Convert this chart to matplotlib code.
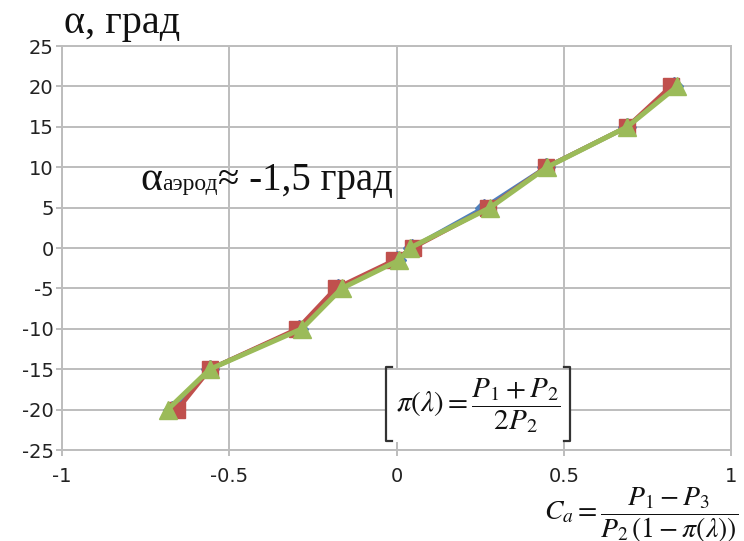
import matplotlib
matplotlib.use("Agg")
import matplotlib.pyplot as plt
from matplotlib.patches import Rectangle
from matplotlib.lines import Line2D

# Angle of attack, degrees
alpha = [-20, -15, -10, -5, -1.5, 0, 5, 10, 15, 20]
# Aerodynamic coefficient Ca for three measurement series
ca_blue = [-0.670, -0.558, -0.290, -0.175, 0.000, 0.045, 0.262, 0.448, 0.690, 0.830]
ca_red = [-0.655, -0.558, -0.296, -0.182, -0.006, 0.048, 0.275, 0.448, 0.690, 0.820]
ca_green = [-0.684, -0.558, -0.283, -0.164, 0.008, 0.040, 0.280, 0.450, 0.690, 0.839]

x_ticks = [-1, -0.5, 0, 0.5, 1]
x_labels = ["-1", "-0.5", "0", "0.5", "1"]
y_ticks = list(range(-25, 30, 5))

plt.rcParams["mathtext.fontset"] = "stix"
plt.rcParams["axes.unicode_minus"] = False

W, H = 744, 541
fig = plt.figure(figsize=(W / 100, H / 100), dpi=100)

def fx(px):
    return px / W

def fy(py):
    return 1 - py / H

ax = fig.add_axes([fx(62), fy(450), fx(731) - fx(62), fy(46) - fy(450)])

grid_c = "#bdbdbd"
ax.plot(ca_blue, alpha, color="#4f81bd", lw=3.2, marker="D", ms=9,
        solid_joinstyle="round", zorder=3)
ax.plot(ca_red, alpha, color="#c0504d", lw=3.2, marker="s", ms=11,
        solid_joinstyle="round", zorder=4)
ax.plot(ca_green, alpha, color="#9bbb59", lw=3.6, marker="^", ms=13,
        solid_joinstyle="round", zorder=5)

ax.set_xlim(-1, 1)
ax.set_ylim(-25, 25)
ax.set_xticks(x_ticks)
ax.set_xticklabels(x_labels)
ax.set_yticks(y_ticks)
ax.grid(True, color=grid_c, lw=1.4)
ax.set_axisbelow(True)
for s in ax.spines.values():
    s.set_color(grid_c)
    s.set_linewidth(1.4)
ax.tick_params(axis="both", colors=grid_c, length=4, width=1.4,
               labelcolor="#222222", labelsize=14)
ax.tick_params(axis="x", pad=8)
ax.tick_params(axis="y", pad=2)
for lab in ax.get_xticklabels() + ax.get_yticklabels():
    lab.set_family("DejaVu Sans")

serif = "Liberation Serif"

# Axis caption
fig.text(fx(64), fy(33), "α, град", family=serif, fontsize=29,
         color="#111111", va="baseline", ha="left")

# Zero-lift angle note, built from pieces of different sizes
renderer = fig.canvas.get_renderer()
x0 = 140
base = fy(190)
parts = [("α", 30), ("аэрод", 17), ("≈ -1,5 град", 28)]
for txt, size in parts:
    t = fig.text(fx(x0), base, txt, family=serif, fontsize=size,
                 color="#111111", va="baseline", ha="left")
    x0 += t.get_window_extent(renderer).width + (1 if size < 20 else 0)

# Boxed formula for pi(lambda)
fig.add_artist(Rectangle((fx(386), fy(442)), fx(570) - fx(386), fy(370) - fy(442),
                         transform=fig.transFigure, facecolor="white",
                         edgecolor="none", zorder=2))
bc = "#333333"
for xb, d in ((386, 6), (570, -6)):
    fig.add_artist(Line2D([fx(xb + d), fx(xb), fx(xb), fx(xb + d)],
                          [fy(367), fy(367), fy(441), fy(441)],
                          transform=fig.transFigure, color=bc, lw=1.6, zorder=3))
fig.text(fx(478), fy(406), r"$\pi(\lambda)=\dfrac{P_1+P_2}{2P_2}$",
         fontsize=21, ha="center", va="center", color="#111111", zorder=4)

# Definition of Ca below the axis
fig.text(fx(544), fy(515), r"$C_a=\dfrac{P_1-P_3}{P_2\,(1-\pi(\lambda))}$",
         fontsize=20, ha="left", va="center", color="#111111", zorder=4)

fig.savefig("out.png", dpi=100, facecolor="white")
